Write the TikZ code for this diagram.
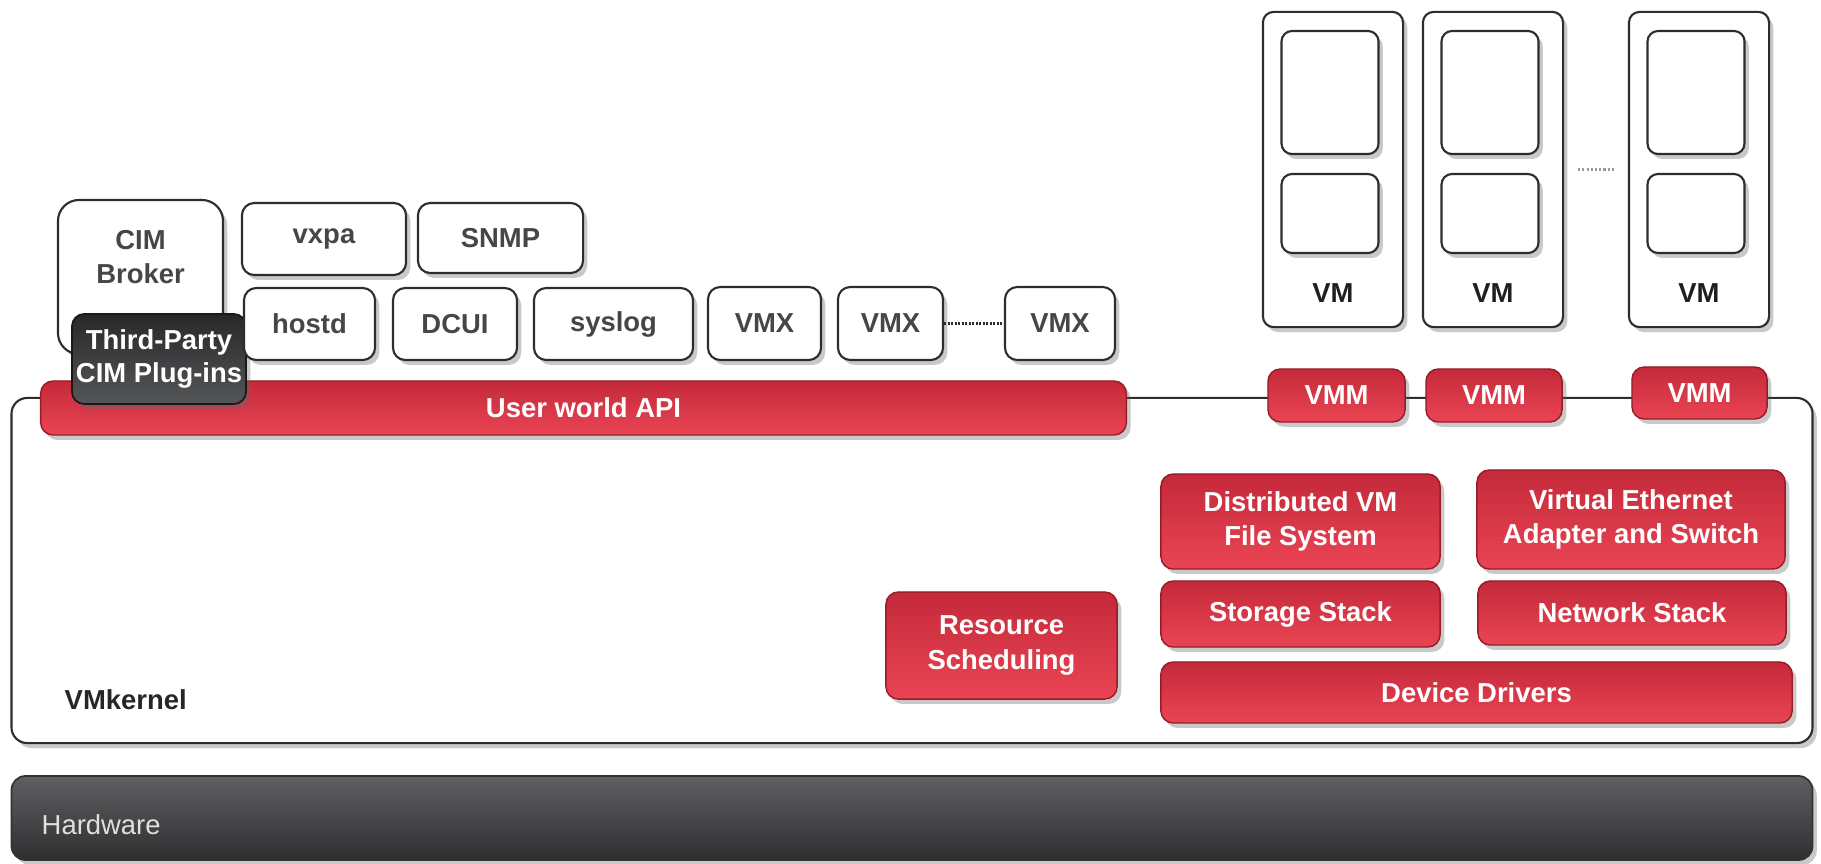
\documentclass[tikz,border=0pt]{standalone}
\usepackage{fontspec}
\setmainfont{Liberation Sans}
\usetikzlibrary{shadows,calc}
\definecolor{redtop}{RGB}{196,42,58}
\definecolor{redbot}{RGB}{234,68,84}
\definecolor{redline}{RGB}{150,28,40}
\definecolor{boxline}{RGB}{45,45,45}
\definecolor{txtgray}{RGB}{70,70,70}
\definecolor{hwtop}{RGB}{95,96,98}
\definecolor{hwbot}{RGB}{46,46,48}
\definecolor{tptop}{RGB}{40,40,42}
\definecolor{tpbot}{RGB}{85,86,88}
\tikzset{
  shd/.style={drop shadow={shadow xshift=1.2pt,shadow yshift=-1.4pt,opacity=0.35,fill=black!60}},
  wbox/.style={draw=boxline,line width=0.6pt,fill=white,rounded corners=3.5pt,shd,
    font=\fontsize{7.8}{9.6}\selectfont\bfseries,text=txtgray,align=center,inner sep=0pt},
  rbox/.style={draw=redline,line width=0.4pt,top color=redtop,bottom color=redbot,rounded corners=3.5pt,shd,
    font=\fontsize{7.8}{9.8}\selectfont\bfseries,text=white,align=center,inner sep=0pt},
  vmbox/.style={wbox,rounded corners=3pt},
  lbl/.style={font=\fontsize{7.8}{9.6}\selectfont\bfseries,inner sep=0pt},
  dotl/.style={draw=boxline,line width=0.8pt,dash pattern=on 0.6pt off 0.4pt}
}
\begin{document}
\begin{tikzpicture}[x=0.01cm,y=-0.01cm]
\useasboundingbox[fill=white] (0,0) rectangle (1821,863);
% hardware
\node[draw=black!80,line width=0.5pt,top color=hwtop,bottom color=hwbot,rounded corners=4pt,shd,
  minimum width=18.0cm,minimum height=0.84cm] (hw) at (912,818) {};
\node[anchor=west,font=\fontsize{7.8}{9.6}\selectfont,text=black!12,inner sep=0pt] (hwl) at (41,825) {Hardware};
% vmkernel
\node[draw=boxline,line width=0.6pt,fill=white,rounded corners=4.5pt,shd,
  minimum width=18.0cm,minimum height=3.45cm] (kern) at (912,570.5) {};
\node[lbl,anchor=west,text=black!85] (kernl) at (64,700) {VMkernel};
% user world API
\node[rbox,minimum width=10.85cm,minimum height=0.54cm] (api) at (583.5,408) {User world API};
% CIM broker
\node[wbox,rounded corners=6pt,minimum width=1.65cm,minimum height=1.54cm] (cim) at (140.5,277) {};
\node[lbl,text=txtgray,align=center] (ciml) at (140.5,257) {CIM\\Broker};
\node[draw=black!90,line width=0.5pt,top color=tptop,bottom color=tpbot,rounded corners=3.5pt,shd,
  font=\fontsize{7.8}{9.6}\selectfont\bfseries,text=white,align=center,inner sep=0pt,
  minimum width=1.74cm,minimum height=0.90cm] (tp) at (159,359) {Third-Party\\CIM Plug-ins};
% user world processes
\node[wbox,minimum width=1.64cm,minimum height=0.72cm] (vxpa) at (324,239) {vxpa};
\node[wbox,minimum width=1.65cm,minimum height=0.70cm] (snmp) at (500.5,238) {SNMP};
\node[wbox,minimum width=1.31cm,minimum height=0.72cm] (hostd) at (309.5,324) {hostd};
\node[wbox,minimum width=1.24cm,minimum height=0.72cm] (dcui) at (455,324) {DCUI};
\node[wbox,minimum width=1.59cm,minimum height=0.72cm] (syslog) at (613.5,324) {syslog};
\node[wbox,minimum width=1.13cm,minimum height=0.73cm] (vmx1) at (764.5,323.5) {VMX};
\node[wbox,minimum width=1.05cm,minimum height=0.73cm] (vmx2) at (890.5,323.5) {VMX};
\node[wbox,minimum width=1.10cm,minimum height=0.73cm] (vmx3) at (1060,323.5) {VMX};
\draw[dotl] (vmx2.east) -- (vmx3.west);
% VMs
\foreach \n/\cx in {1/1333,2/1493,3/1699}{
  \node[vmbox,minimum width=1.40cm,minimum height=3.15cm] (vm\n) at (\cx,169.5) {};
  \node[vmbox,minimum width=0.97cm,minimum height=1.23cm] (vm\n a) at (\cx-3,92.5) {};
  \node[vmbox,minimum width=0.97cm,minimum height=0.79cm] (vm\n b) at (\cx-3,213.5) {};
  \node[lbl,text=black!88] (vm\n l) at (\cx,293) {VM};
}
\draw[draw=black!40,line width=0.6pt,dash pattern=on 0.6pt off 0.6pt,shorten <=0.14cm,shorten >=0.12cm] (vm2.east) -- (vm3.west);
% VMMs
\node[rbox,minimum width=1.37cm,minimum height=0.53cm] (vmm1) at (1336.5,395.5) {VMM};
\node[rbox,minimum width=1.36cm,minimum height=0.53cm] (vmm2) at (1494,395.5) {VMM};
\node[rbox,minimum width=1.35cm,minimum height=0.52cm] (vmm3) at (1699.5,393) {VMM};
% kernel components
\node[rbox,minimum width=2.79cm,minimum height=0.95cm] (dfs) at (1300.5,521.5) {Distributed VM\\File System};
\node[rbox,minimum width=3.08cm,minimum height=0.99cm] (veth) at (1631,519.5) {Virtual Ethernet\\Adapter and Switch};
\node[rbox,minimum width=2.79cm,minimum height=0.66cm] (stor) at (1300.5,614) {Storage Stack};
\node[rbox,minimum width=3.08cm,minimum height=0.64cm] (net) at (1632,613) {Network Stack};
\node[rbox,minimum width=6.31cm,minimum height=0.61cm] (dd) at (1476.5,692.5) {Device Drivers};
\node[rbox,minimum width=2.31cm,minimum height=1.07cm] (rs) at (1001.5,645.5) {Resource\\Scheduling};
\end{tikzpicture}
\end{document}
